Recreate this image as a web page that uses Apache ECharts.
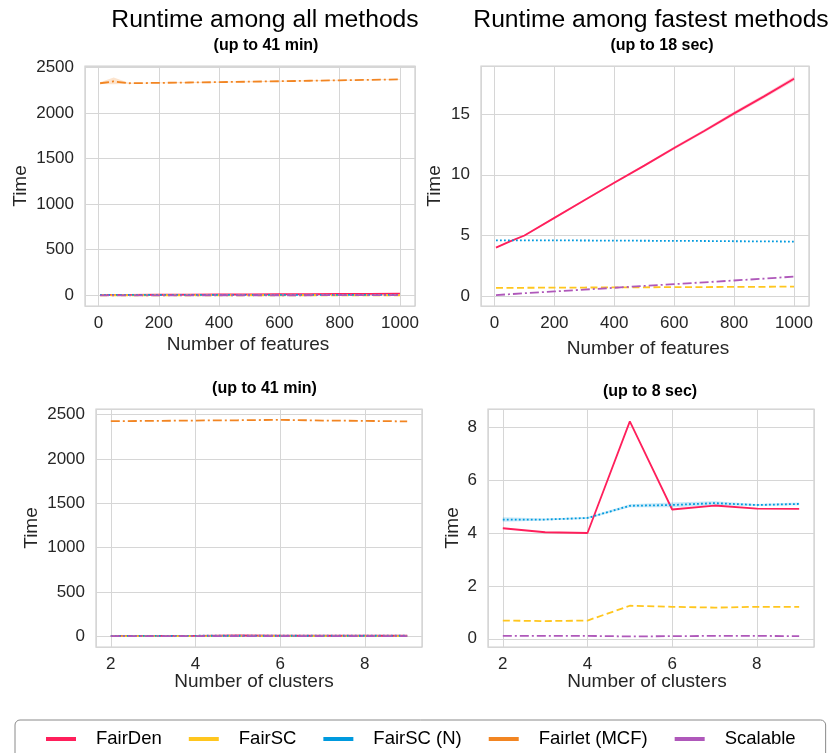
<!DOCTYPE html>
<html>
<head>
<meta charset="utf-8">
<script src="https://cdn.jsdelivr.net/npm/echarts@6/dist/echarts.min.js"></script>
<style>html,body{margin:0;padding:0;background:#fff;}#c{width:833px;height:753px;}</style>
</head>
<body>
<div id="c"></div>
<script>
// ---- data ----
const methods = ['FairDen', 'FairSC', 'FairSC (N)', 'Fairlet (MCF)', 'Scalable'];
const features = [5, 50, 100, 200, 300, 400, 500, 600, 700, 800, 900, 1000];
const clusters = [2, 3, 4, 5, 6, 7, 8, 9];

const featFairDen   = [4.0, 4.5, 5.0, 6.45, 7.9, 9.35, 10.75, 12.2, 13.6, 15.05, 16.45, 17.9];
const featFairSC    = [0.69, 0.69, 0.7, 0.71, 0.72, 0.73, 0.74, 0.75, 0.76, 0.77, 0.78, 0.8];
const featFairSCN   = [4.6, 4.6, 4.6, 4.6, 4.59, 4.58, 4.57, 4.56, 4.55, 4.53, 4.52, 4.5];
const featFairlet   = [2326, 2346, 2326, 2330, 2334, 2338, 2343, 2348, 2353, 2358, 2363, 2368];
const featScalable  = [0.1, 0.17, 0.25, 0.4, 0.55, 0.7, 0.85, 1.0, 1.15, 1.3, 1.45, 1.62];

const featFairDenLow  = [3.95, 4.45, 4.95, 6.38, 7.82, 9.25, 10.65, 12.08, 13.47, 14.9, 16.3, 17.72];
const featFairDenHigh = [4.05, 4.55, 5.05, 6.52, 7.98, 9.45, 10.85, 12.32, 13.73, 15.2, 16.6, 18.08];
const featFairletLow  = [2318, 2316, 2320, 2325, 2329, 2333, 2338, 2343, 2348, 2353, 2358, 2363];
const featFairletHigh = [2336, 2390, 2332, 2335, 2339, 2343, 2348, 2353, 2358, 2363, 2368, 2373];

const clFairDen   = [4.18, 4.03, 4.0, 8.22, 4.89, 5.04, 4.92, 4.91];
const clFairSC    = [0.69, 0.67, 0.69, 1.25, 1.21, 1.18, 1.21, 1.21];
const clFairSCN   = [4.51, 4.51, 4.57, 5.03, 5.06, 5.13, 5.06, 5.1];
const clFairlet   = [2425, 2428, 2432, 2435, 2440, 2432, 2428, 2422];
const clScalable  = [0.11, 0.11, 0.11, 0.09, 0.1, 0.11, 0.11, 0.1];

const clFairSCNLow  = [4.43, 4.47, 4.53, 4.97, 4.97, 5.05, 5.02, 5.05];
const clFairSCNHigh = [4.6, 4.55, 4.61, 5.09, 5.15, 5.2, 5.1, 5.15];

// ---- styling ----
const FONT = "'Liberation Sans', Arial, sans-serif";
const colors = {'FairDen':'#ff1f5b','FairSC':'#ffc61e','FairSC (N)':'#009ade','Fairlet (MCF)':'#f28522','Scalable':'#af58ba'};
const dashes = {'FairDen':'solid','FairSC':[7,3.5],'FairSC (N)':[1.8,2.2],'Fairlet (MCF)':[9,3,2,3],'Scalable':[9,3,2,3]};
const GRID_C = '#d6d6d6';
const TXT = '#262626';

const grids = [
  {left: 85, top: 66, width: 330, height: 240},
  {left: 481, top: 66, width: 328, height: 240},
  {left: 96, top: 409, width: 326, height: 238},
  {left: 488, top: 409, width: 326, height: 238}
];

function isNice(v, step) { return Math.abs(v / step - Math.round(v / step)) < 1e-6; }

function axis(gi, min, max, step, isX) {
  return {
    type: 'value', gridIndex: gi, min: min, max: max,
    minInterval: step, maxInterval: step, splitNumber: 6,
    axisLine: {show: false}, axisTick: {show: false},
    axisLabel: {color: TXT, fontSize: 17, fontFamily: FONT, margin: isX ? 9 : 11,
      formatter: v => isNice(v, step) ? String(Math.round(v)) : ''},
    splitLine: {show: true, lineStyle: {color: GRID_C, width: 1}}
  };
}

const xAxes = [
  axis(0, -45, 1050, 200, true),
  axis(1, -45, 1050, 200, true),
  axis(2, 1.65, 9.35, 2, true),
  axis(3, 1.65, 9.35, 2, true)
];
const yAxes = [
  axis(0, -117, 2515, 500, false),
  axis(1, -0.8, 18.95, 5, false),
  axis(2, -122, 2562, 500, false),
  axis(3, -0.31, 8.69, 2, false)
];

const series = [];
function line(name, xs, ys, gi) {
  series.push({
    name: name, type: 'line', xAxisIndex: gi, yAxisIndex: gi,
    data: xs.map((x, i) => [x, ys[i]]), symbol: 'none', smooth: false,
    color: colors[name],
    lineStyle: {color: colors[name], width: 1.8, type: dashes[name]},
    z: 3, silent: true
  });
}
function band(name, xs, lo, hi, gi) {
  series.push({
    name: name + ' band', type: 'custom', xAxisIndex: gi, yAxisIndex: gi,
    data: xs.map((x, i) => [x, lo[i], hi[i]]), z: 1, silent: true,
    renderItem: function (params, api) {
      if (params.dataIndex !== 0) return null;
      const pts = [];
      for (let i = 0; i < xs.length; i++) pts.push(api.coord([xs[i], hi[i]]));
      for (let i = xs.length - 1; i >= 0; i--) pts.push(api.coord([xs[i], lo[i]]));
      return {type: 'polygon', shape: {points: pts}, style: {fill: colors[name], opacity: 0.22}};
    }
  });
}

// Top-left: features, all methods
band('Fairlet (MCF)', features, featFairletLow, featFairletHigh, 0);
line('FairDen', features, featFairDen, 0);
line('FairSC', features, featFairSC, 0);
line('FairSC (N)', features, featFairSCN, 0);
line('Fairlet (MCF)', features, featFairlet, 0);
line('Scalable', features, featScalable, 0);
// Top-right: features, fastest
band('FairDen', features, featFairDenLow, featFairDenHigh, 1);
line('FairDen', features, featFairDen, 1);
line('FairSC', features, featFairSC, 1);
line('FairSC (N)', features, featFairSCN, 1);
line('Scalable', features, featScalable, 1);
// Bottom-left: clusters, all methods
line('FairDen', clusters, clFairDen, 2);
line('FairSC', clusters, clFairSC, 2);
line('FairSC (N)', clusters, clFairSCN, 2);
line('Fairlet (MCF)', clusters, clFairlet, 2);
line('Scalable', clusters, clScalable, 2);
// Bottom-right: clusters, fastest
band('FairSC (N)', clusters, clFairSCNLow, clFairSCNHigh, 3);
line('FairDen', clusters, clFairDen, 3);
line('FairSC', clusters, clFairSC, 3);
line('FairSC (N)', clusters, clFairSCN, 3);
line('Scalable', clusters, clScalable, 3);

function txt(text, x, y, size, weight) {
  return {type: 'text', x: x, y: y, silent: true,
    style: {text: text, fill: '#000', font: (weight || 'normal') + ' ' + size + 'px ' + FONT,
      textAlign: 'center', textVerticalAlign: 'middle'}};
}
function axName(text, x, y, rot) {
  return {type: 'text', x: x, y: y, rotation: rot || 0, silent: true,
    style: {text: text, fill: TXT, font: 'normal 19px ' + FONT, textAlign: 'center', textVerticalAlign: 'middle'}};
}

const option = {
  animation: false,
  backgroundColor: '#fff',
  grid: grids.map(g => Object.assign({show: true, borderColor: '#cfcfcf', borderWidth: 1.25, backgroundColor: 'transparent', containLabel: false}, g)),
  xAxis: xAxes,
  yAxis: yAxes,
  series: series,
  legend: {
    data: methods, left: 15, top: 720, icon: 'rect', itemWidth: 30, itemHeight: 4, itemGap: 27,
    padding: [8, 30, 8, 31], borderColor: '#8a8a8a', borderWidth: 1, borderRadius: 5,
    selectedMode: false,
    textStyle: {fontSize: 18.5, fontFamily: FONT, color: '#000', padding: [0, 0, 0, 15], lineHeight: 22}
  },
  graphic: [
    txt('Runtime among all methods', 265, 20, 24.7, 'normal'),
    txt('(up to 41 min)', 266, 46, 16, 'bold'),
    txt('Runtime among fastest methods', 651, 20, 24.7, 'normal'),
    txt('(up to 18 sec)', 662, 46, 16, 'bold'),
    txt('(up to 41 min)', 264.5, 389, 16, 'bold'),
    txt('(up to 8 sec)', 650, 392, 16, 'bold'),
    axName('Time', 21, 186, Math.PI / 2),
    axName('Time', 435, 186, Math.PI / 2),
    axName('Time', 32, 528, Math.PI / 2),
    axName('Time', 453, 528, Math.PI / 2),
    axName('Number of features', 248, 345),
    axName('Number of features', 648, 349),
    axName('Number of clusters', 254, 682),
    axName('Number of clusters', 647, 682)
  ]
};

const chart = echarts.init(document.getElementById('c'), null, {renderer: 'canvas'});
chart.setOption(option);
</script>
</body>
</html>
